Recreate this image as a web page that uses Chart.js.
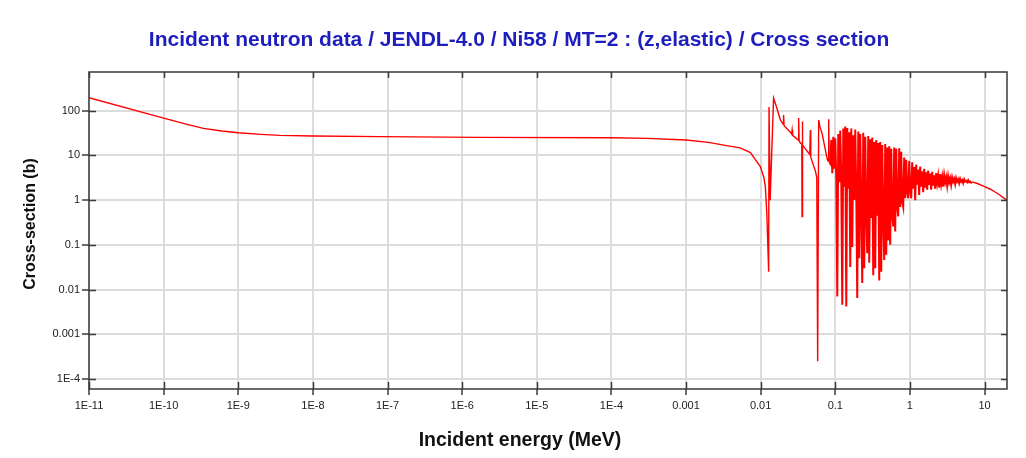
<!DOCTYPE html>
<html>
<head>
<meta charset="utf-8">
<script src="https://cdn.jsdelivr.net/npm/chart.js@4.4.1/dist/chart.umd.min.js"></script>
<style>
  html, body { margin: 0; padding: 0; background: #fff; }
  canvas { display: block; }
</style>
</head>
<body>
<canvas id="myChart" width="1026" height="458"></canvas>
<script>
const chartTitle = 'Incident neutron data / JENDL-4.0 / Ni58 / MT=2 : (z,elastic) / Cross section'
const xTitle = 'Incident energy (MeV)'
const yTitle = 'Cross-section (b)'

const xTickValues = [1e-11, 1e-10, 1e-9, 1e-8, 1e-7, 1e-6, 1e-5, 1e-4, 1e-3, 1e-2, 0.1, 1, 10]
const xTickLabels = ['1E-11', '1E-10', '1E-9', '1E-8', '1E-7', '1E-6', '1E-5', '1E-4', '0.001', '0.01', '0.1', '1', '10']
const yTickValues = [1e-4, 1e-3, 1e-2, 0.1, 1, 10, 100]
const yTickLabels = ['1E-4', '0.001', '0.01', '0.1', '1', '10', '100']

// thermal + smooth part (MeV, barns)
const lowEnergy = [1e-11, 1e-10, 2e-10, 3.4e-10, 6e-10, 1e-9, 2e-9, 3.6e-9, 1e-8, 8e-8, 1.7e-6, 1e-4, 3e-4, 1e-3, 2e-3, 3.5e-3, 5.3e-3, 7.3e-3, 8.5e-3, 9.9e-3, 0.011, 0.01156, 0.0121, 0.0128]
const lowSigma = [195, 68, 50, 40, 35, 32, 29.5, 28, 27, 26.3, 25.3, 24.8, 24, 22, 19.5, 16.5, 14.7, 11.5, 8, 5.6, 3.3, 2, 0.5, 0.025]

// first isolated resonances
const resEnergy = [0.01295, 0.0134, 0.0149, 0.0162, 0.0184, 0.0200, 0.0203, 0.0206, 0.0250, 0.0260, 0.0264, 0.0268, 0.0318, 0.0323, 0.0328, 0.0340, 0.0356, 0.0359, 0.0362, 0.0366, 0.0455, 0.0464, 0.0470, 0.0541, 0.0565, 0.0581, 0.0599, 0.0620, 0.0665, 0.0776, 0.0800, 0.0816, 0.0830]
const resSigma = [120, 1.0, 190, 125, 62, 50, 80, 46, 33, 30, 37, 28, 22, 68, 21, 19, 18, 0.43, 57, 17, 10.5, 37, 9, 4.5, 3.2, 0.00025, 62, 45, 31, 8.6, 7.5, 64, 7]

// dense resolved region
const denseEnergy = [0.0857, 0.0884, 0.0912, 0.0940, 0.0970, 0.1000, 0.1031, 0.1064, 0.1097, 0.1131,
  0.1167, 0.1203, 0.1241, 0.1280, 0.1320, 0.1361, 0.1404, 0.1448, 0.1493, 0.1540,
  0.1588, 0.1638, 0.1689, 0.1742, 0.1796, 0.1852, 0.1910, 0.1970, 0.2032, 0.2095,
  0.2161, 0.2229, 0.2298, 0.2370, 0.2444, 0.2521, 0.2600, 0.2681, 0.2765, 0.2852,
  0.2941, 0.3033, 0.3128, 0.3226, 0.3327, 0.3431, 0.3538, 0.3649, 0.3763, 0.3881,
  0.4003, 0.4128, 0.4257, 0.4390, 0.4528, 0.4669, 0.4815, 0.4966, 0.5121, 0.5282,
  0.5447, 0.5617, 0.5793, 0.5974, 0.6161, 0.6355, 0.6554, 0.6759, 0.6970, 0.7188,
  0.7413, 0.7645, 0.7885, 0.8131, 0.8386, 0.8649, 0.8920, 0.9199, 0.9487, 0.9784, 1.009]
const denseSigma = [6.5, 22, 4, 26, 5, 24, 3, 0.007, 30, 2.5,
  36, 3, 0.0046, 40, 2, 44, 0.0042, 41, 1.8, 33,
  0.032, 40, 0.09, 28, 1.0, 38, 1.6, 0.0065, 34, 0.05,
  30, 0.7, 0.014, 32, 0.03, 26, 0.5, 0.065, 27, 0.04,
  23, 0.4, 25, 0.021, 20, 0.03, 22, 0.45, 19, 0.016,
  20, 0.025, 17, 0.4, 0.046, 18, 0.06, 15, 0.125, 16,
  0.1, 14, 0.45, 0.26, 15, 0.2, 14, 0.7, 0.43, 14.5,
  0.7, 12, 0.9, 0.7, 9, 1.1, 8, 1.5, 1.1, 7.5, 1.6]

// fast region (fluctuating)
const fastEnergy = [1.041, 1.073, 1.107, 1.141, 1.177, 1.214, 1.252, 1.291, 1.331, 1.373,
  1.416, 1.460, 1.506, 1.553, 1.602, 1.652, 1.704, 1.757, 1.812, 1.869,
  1.927, 1.988, 2.050, 2.114, 2.180, 2.249, 2.319, 2.392, 2.467, 2.544,
  2.624, 2.706, 2.791, 2.878, 2.968, 3.061, 3.157, 3.255, 3.357, 3.462,
  3.571, 3.683, 3.798, 3.917, 4.040, 4.166, 4.296, 4.431, 4.570, 4.713,
  4.860, 5.013, 5.170, 5.332, 5.499, 5.671, 5.848, 6.031, 6.220, 6.415,
  6.616, 6.823]
const fastSigma = [1.1, 7.0, 1.8, 5.5, 1.0, 6.2, 2.2, 4.8, 1.3, 5.6,
  2.0, 4.4, 1.5, 5.0, 1.9, 4.2, 1.7, 4.6, 2.2, 3.9,
  1.7, 4.3, 2.1, 3.6, 1.8, 4.0, 2.4, 3.5, 1.9, 3.8,
  2.3, 3.3, 2.0, 3.6, 2.5, 3.2, 2.1, 3.4, 2.5, 3.1,
  2.2, 3.2, 2.6, 3.0, 2.3, 3.1, 2.6, 2.9, 2.4, 3.0,
  2.6, 2.8, 2.4, 2.9, 2.6, 2.7, 2.5, 2.8, 2.5, 2.6,
  2.45, 2.55]

// smooth tail
const tailEnergy = [6.823, 8.0, 10, 12, 14, 16, 18, 20]
const tailSigma = [2.55, 2.35, 2.0, 1.75, 1.5, 1.3, 1.12, 1.0]

const toPoints = (xs, ys) => xs.map((e, i) => ({ x: e, y: ys[i] }))

// isolated part ends where the dense part starts, so the curve stays joined
const isolatedPoints = toPoints([...lowEnergy, ...resEnergy], [...lowSigma, ...resSigma])
const densePoints = [isolatedPoints[isolatedPoints.length - 1], ...toPoints([...denseEnergy, ...fastEnergy], [...denseSigma, ...fastSigma])]
const tailPoints = toPoints(tailEnergy, tailSigma)

const FONT = '"Liberation Sans", Arial, sans-serif'

// frame, inner ticks and the text labels
const framePlugin = {
    id: 'frame',
    afterDraw(chart) {
        const c = chart.ctx
        const a = chart.chartArea
        const xs = chart.scales.x
        const ys = chart.scales.y
        c.save()
        c.strokeStyle = '#3a3a3a'
        c.lineWidth = 1.5
        c.strokeRect(a.left, a.top, a.right - a.left, a.bottom - a.top)
        c.beginPath()
        xTickValues.forEach(v => {
            let px = Math.round(xs.getPixelForValue(v)) + 0.5
            c.moveTo(px, a.top); c.lineTo(px, a.top + 6)
            c.moveTo(px, a.bottom); c.lineTo(px, a.bottom - 7)
        })
        yTickValues.forEach(v => {
            let py = Math.round(ys.getPixelForValue(v)) + 0.5
            c.moveTo(a.left, py); c.lineTo(a.left + 7, py)
            c.moveTo(a.right, py); c.lineTo(a.right - 6, py)
        })
        c.stroke()

        c.fillStyle = '#1e1ebe'
        c.font = 'bold 21px ' + FONT
        c.textAlign = 'center'
        c.textBaseline = 'alphabetic'
        c.fillText(chartTitle, 519, 46)

        c.fillStyle = '#111'
        c.font = 'bold 19.5px ' + FONT
        c.fillText(xTitle, 520, 446)

        c.font = 'bold 16px ' + FONT
        c.translate(35, 224)
        c.rotate(-Math.PI / 2)
        c.fillText(yTitle, 0, 0)
        c.restore()
    }
}

const lineStyle = {
    showLine: true,
    borderColor: 'rgb(255, 0, 0)',
    pointRadius: 0,
    pointHoverRadius: 0,
    fill: false
}

const ctx = document.getElementById('myChart').getContext('2d')

const myChart = new Chart(ctx, {
    type: 'scatter',
    data: {
        datasets: [
            { ...lineStyle, data: isolatedPoints, borderWidth: 1.4 },
            { ...lineStyle, data: densePoints, borderWidth: 2 },
            { ...lineStyle, data: tailPoints, borderWidth: 1.4 }
        ]
    },
    options: {
        responsive: false,
        animation: false,
        layout: { padding: { top: 72, right: 19, left: 0, bottom: 0 } },
        plugins: {
            legend: { display: false },
            tooltip: { enabled: false }
        },
        scales: {
            x: {
                type: 'logarithmic',
                min: 1e-11,
                max: 20,
                afterBuildTicks: (scale) => { scale.ticks = xTickValues.map(v => ({ value: v })) },
                afterFit: (scale) => { scale.height = 69 },
                border: { display: false },
                grid: { color: '#dcdcdc', lineWidth: 2, tickColor: '#3a3a3a', tickWidth: 1.5, tickLength: 6 },
                ticks: {
                    autoSkip: false, maxRotation: 0, padding: 4,
                    color: '#222', font: { family: FONT, size: 11 },
                    callback: (v, i) => xTickLabels[i]
                }
            },
            y: {
                type: 'logarithmic',
                min: 6e-5,
                max: 730,
                afterBuildTicks: (scale) => { scale.ticks = yTickValues.map(v => ({ value: v })) },
                afterFit: (scale) => { scale.width = 89 },
                border: { display: false },
                grid: { color: '#dcdcdc', lineWidth: 2, tickColor: '#3a3a3a', tickWidth: 1.5, tickLength: 7 },
                ticks: {
                    autoSkip: false, padding: 2,
                    color: '#222', font: { family: FONT, size: 11 },
                    callback: (v, i) => yTickLabels[i]
                }
            }
        }
    },
    plugins: [framePlugin]
})
</script>
</body>
</html>
